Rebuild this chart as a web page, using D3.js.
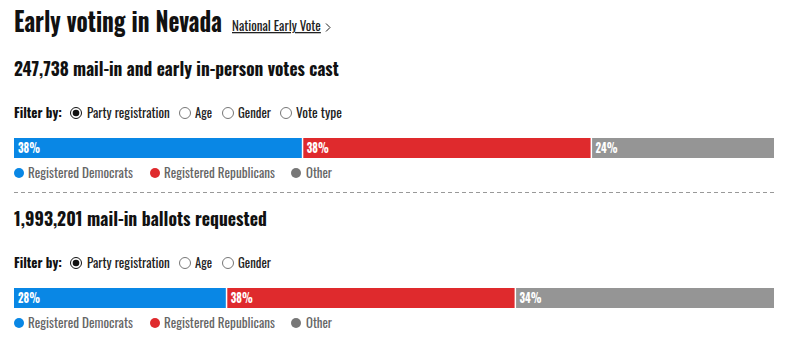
<!DOCTYPE html>
<html>
<head>
<meta charset="utf-8">
<script src="https://cdn.jsdelivr.net/npm/d3@7/dist/d3.min.js"></script>
<style>
  html, body { margin: 0; padding: 0; background: #fff; }
  svg { display: block; }
  text { font-family: "Oswald", "Roboto Condensed", "Liberation Sans Narrow", "DejaVu Sans Condensed", "Roboto", sans-serif; }
</style>
</head>
<body>
<svg id="chart" width="786" height="344"></svg>
<script>
// ---- Data ----
const title = "Early voting in Nevada";
const linkText = "National Early Vote";
const categories = ["Registered Democrats", "Registered Republicans", "Other"];
const sectionTitles = ["247,738 mail-in and early in-person votes cast", "1,993,201 mail-in ballots requested"];
const castValues = [38, 38, 24];
const requestedValues = [28, 38, 34];
const castFilters = ["Party registration", "Age", "Gender", "Vote type"];
const requestedFilters = ["Party registration", "Age", "Gender"];
const filterLabel = "Filter by:";

// ---- Styles / layout ----
const barColors = ["#0987E5", "#DF2A2D", "#959595"];
const dotColors = ["#0987E5", "#DF2A2D", "#777777"];
const left = 14, right = 774;

const svg = d3.select("#chart");

// place text at (x,y), compress horizontally (about x) to width w, optional vertical stretch sy
function fitText(parent, x0, y0, w, str, attrs, sy) {
  sy = sy || 1;
  const t = parent.append("text").attr("x", x0).attr("y", y0).text(str);
  Object.entries(attrs).forEach(([k, v]) => t.attr(k, v));
  const len = t.node().getComputedTextLength() || w;
  const s = w / len;
  t.attr("transform", `matrix(${s},0,0,${sy},${x0 * (1 - s)},${y0 * (1 - sy)})`);
  return t;
}

// Title
fitText(svg, 14, 32, 208, title, { "font-size": 24, "font-weight": 700, fill: "#111" }, 1.15);

// Link
fitText(svg, 232, 31, 89, linkText, { "font-size": 13, fill: "#222", "text-decoration": "underline" });
svg.append("path").attr("d", "M326,23.5 L330,27.5 L326,31.5")
  .attr("fill", "none").attr("stroke", "#222").attr("stroke-width", 1);

const x = d3.scaleLinear().domain([0, 100]).range([left, right]);

const sections = [
  { title: sectionTitles[0], titleW: 325, values: castValues, filters: castFilters, dy: 0 },
  { title: sectionTitles[1], titleW: 253, values: requestedValues, filters: requestedFilters, dy: 150 }
];

const radioX = [76, 185, 228, 286];
const radioLabelX = [87, 195, 238, 296];
const radioLabelW = [83, 17, 33, 46];
const legendDotX = [19, 155, 296];
const legendLabelX = [28, 164, 306];
const legendLabelW = [105, 111, 26];

sections.forEach((s, si) => {
  const g = svg.append("g").attr("transform", `translate(0,${s.dy})`);

  fitText(g, 14, 76, s.titleW, s.title, { "font-size": 18.5, "font-weight": 700, fill: "#111" });

  // Filter row
  fitText(g, 14, 118, 48, filterLabel, { "font-size": 14, "font-weight": 700, fill: "#111" });

  s.filters.forEach((f, i) => {
    g.append("circle").attr("cx", radioX[i]).attr("cy", 113).attr("r", 5.5)
      .attr("fill", "#fff").attr("stroke", i === 0 ? "#111" : "#777").attr("stroke-width", 1);
    if (i === 0) {
      g.append("circle").attr("cx", radioX[i]).attr("cy", 113).attr("r", 3.3).attr("fill", "#111");
    }
    fitText(g, radioLabelX[i], 118, radioLabelW[i], f, { "font-size": 14, fill: "#222" });
  });

  // Stacked bar
  const stacked = [];
  let cum = 0;
  s.values.forEach((v, i) => { stacked.push({ v, x0: cum, x1: cum + v, i }); cum += v; });

  g.selectAll("rect.seg").data(stacked).enter().append("rect")
    .attr("class", "seg")
    .attr("x", d => x(d.x0) + (d.i > 0 ? 0.5 : 0))
    .attr("y", 138)
    .attr("width", d => x(d.x1) - x(d.x0) - (d.i > 0 ? 0.5 : 0) - (d.i < stacked.length - 1 ? 1 : 0))
    .attr("height", 20)
    .attr("fill", d => barColors[d.i]);

  stacked.forEach(d => {
    fitText(g, x(d.x0) + 4, 153.5, 22, d.v + "%", { "font-size": 14, "font-weight": 700, fill: "#fff" });
  });

  // Legend
  categories.forEach((c, i) => {
    g.append("circle").attr("cx", legendDotX[i]).attr("cy", 173).attr("r", 5)
      .attr("fill", dotColors[i]);
    fitText(g, legendLabelX[i], 178, legendLabelW[i], c, { "font-size": 14, fill: "#666" });
  });

  if (si === 0) {
    g.append("line").attr("x1", left).attr("x2", right).attr("y1", 192.5).attr("y2", 192.5)
      .attr("stroke", "#999").attr("stroke-width", 1).attr("stroke-dasharray", "4,3");
  }
});
</script>
</body>
</html>
